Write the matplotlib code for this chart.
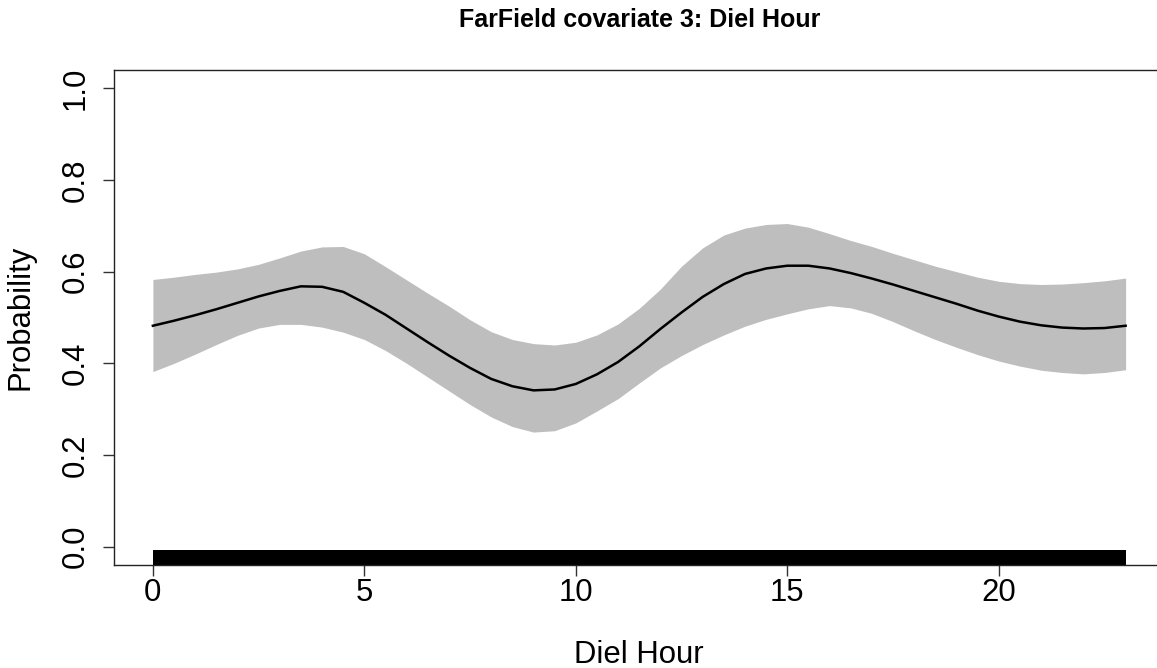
import matplotlib.pyplot as plt

plt.rcParams['font.family'] = ['Liberation Sans', 'DejaVu Sans']

# fitted probability and confidence band by hour of day (half-hour steps)
hours = [0, 0.5, 1, 1.5, 2, 2.5, 3, 3.5, 4, 4.5, 5, 5.5, 6, 6.5, 7, 7.5, 8, 8.5, 9, 9.5, 10, 10.5, 11, 11.5,
         12, 12.5, 13, 13.5, 14, 14.5, 15, 15.5, 16, 16.5, 17, 17.5, 18, 18.5, 19, 19.5, 20, 20.5, 21, 21.5,
         22, 22.5, 23]
fit = [0.482, 0.493, 0.505, 0.518, 0.532, 0.546, 0.558, 0.568, 0.567, 0.556, 0.532, 0.506, 0.476, 0.446,
       0.417, 0.390, 0.366, 0.350, 0.341, 0.343, 0.355, 0.376, 0.403, 0.437, 0.475, 0.511, 0.545, 0.573,
       0.595, 0.607, 0.613, 0.613, 0.607, 0.597, 0.585, 0.572, 0.558, 0.544, 0.530, 0.515, 0.502, 0.491,
       0.483, 0.478, 0.476, 0.477, 0.482]
upper = [0.583, 0.588, 0.594, 0.599, 0.606, 0.616, 0.630, 0.645, 0.654, 0.655, 0.639, 0.611, 0.582, 0.553,
         0.525, 0.495, 0.469, 0.452, 0.443, 0.440, 0.446, 0.462, 0.486, 0.520, 0.562, 0.612, 0.652, 0.680,
         0.695, 0.703, 0.705, 0.697, 0.683, 0.668, 0.655, 0.640, 0.626, 0.612, 0.600, 0.588, 0.579, 0.574,
         0.572, 0.573, 0.576, 0.580, 0.586]
lower = [0.382, 0.400, 0.420, 0.441, 0.461, 0.477, 0.485, 0.485, 0.479, 0.468, 0.452, 0.428, 0.400, 0.370,
         0.340, 0.310, 0.283, 0.262, 0.250, 0.253, 0.270, 0.296, 0.323, 0.357, 0.390, 0.417, 0.441, 0.462,
         0.481, 0.496, 0.508, 0.519, 0.526, 0.521, 0.509, 0.491, 0.471, 0.452, 0.435, 0.419, 0.405, 0.394,
         0.385, 0.380, 0.377, 0.380, 0.386]

# observed hours cover the whole range, so the rug is a solid band
rug_start, rug_end = 0, 23

xticks = [0, 5, 10, 15, 20]
yticks = [0.0, 0.2, 0.4, 0.6, 0.8, 1.0]

fig = plt.figure(figsize=(11.57, 6.68), dpi=100)
ax = fig.add_axes([0.0985, 0.1542, 0.908, 0.741])

ax.fill_between(hours, lower, upper, color='#bebebe', linewidth=0)
ax.plot(hours, fit, color='black', linewidth=1.8)
ax.axvspan(rug_start, rug_end, ymin=0, ymax=0.03, color='black', linewidth=0)

ax.set_xlim(-0.92, 23.92)
ax.set_ylim(-0.04, 1.04)
ax.set_xticks(xticks)
ax.set_xticklabels([str(t) for t in xticks])
ax.set_yticks(yticks)
ax.set_yticklabels(['%.1f' % t for t in yticks], rotation=90, va='center')

for s in ax.spines.values():
    s.set_linewidth(1.0)
    s.set_color('#222222')
ax.tick_params(axis='both', length=8.2, width=1.0, color='#333333', labelsize=22.4)
ax.tick_params(axis='x', pad=1.5)
ax.tick_params(axis='y', pad=8.5)

ax.set_xlabel('Diel Hour', fontsize=22.4)
ax.xaxis.set_label_coords(0.5, -0.152)
ax.set_ylabel('Probability', fontsize=22.4)
ax.yaxis.set_label_coords(-0.075, 0.5)

fig.text(0.5527, 0.970, 'FarField covariate 3: Diel Hour', ha='center', va='center',
         fontsize=18, fontweight='bold')

fig.savefig('out.png', dpi=100)
